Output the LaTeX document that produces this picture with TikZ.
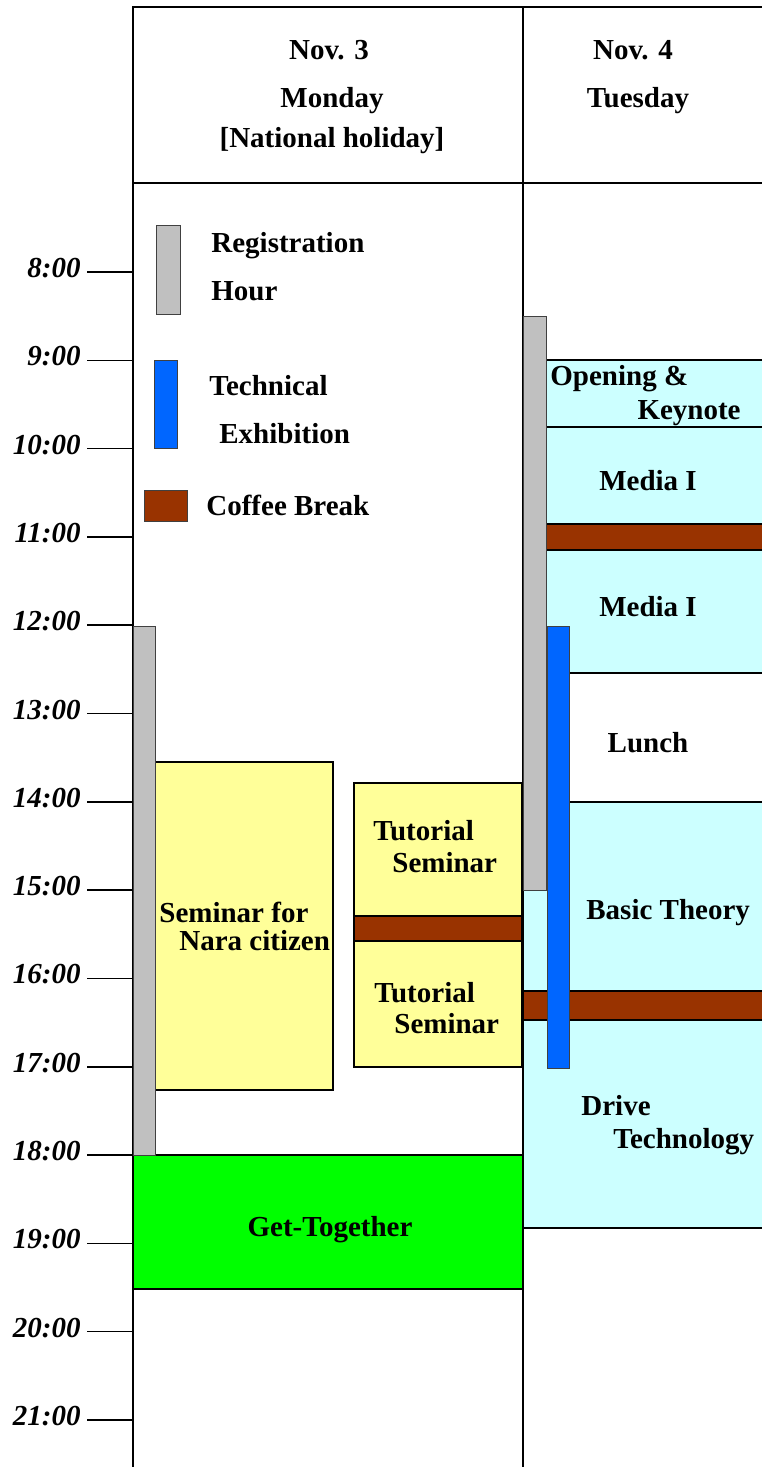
\documentclass[tikz,border=0pt]{standalone}
\usepackage{fontspec}
\setmainfont{Liberation Serif}
\usepackage{tikz}
\pgfdeclarelayer{bg}
\pgfsetlayers{bg,main}

\definecolor{reggray}{HTML}{C0C0C0}
\definecolor{exhblue}{HTML}{0066FF}
\definecolor{coffee}{HTML}{993300}
\definecolor{sess}{HTML}{CCFFFF}
\definecolor{semi}{HTML}{FFFF99}
\definecolor{party}{HTML}{00FF00}

\tikzset{
  lbl/.style={font=\bfseries\fontsize{14.5}{17}\selectfont, inner sep=0pt},
  hr/.style={font=\bfseries\itshape\fontsize{14.5}{17}\selectfont, inner sep=0pt, anchor=base east},
  blk/.style={draw=black, line width=1pt},
  bar/.style={draw=black!75, line width=0.5pt},
}

\begin{document}
\begin{tikzpicture}[x=0.5pt,y=-0.5pt]
        \useasboundingbox (0,0) rectangle (761,1467);
        \begin{pgfonlayer}{bg}
                \draw[line width=1pt] (133,1467) -- (133,7) -- (763,7);
                \draw[line width=1pt] (523,7) -- (523,1467);
                \draw[line width=1pt] (133,183) -- (763,183);
                \foreach \h in {8,...,21} {
                        \pgfmathsetmacro\ty{272+(\h-8)*88.3}
                        \draw[line width=0.8pt] (87,\ty) -- (133,\ty);
                        \node[hr] (t\h) at (81,\ty+5.5) {\h:00};
                }
        \end{pgfonlayer}

        \node[lbl, anchor=base] (d3) at (329,59) {Nov. 3};
        \node[lbl, anchor=base] (mon) at (332,107) {Monday};
        \node[lbl, anchor=base] (hol) at (332,147) {[National holiday]};
        \node[lbl, anchor=base] (d4) at (633,59) {Nov. 4};
        \node[lbl, anchor=base] (tue) at (638,107) {Tuesday};

        % legend
        \draw[bar, fill=reggray] (156,225) rectangle (180,314);
        \draw[bar, fill=exhblue] (154,360) rectangle (177,448);
        \draw[bar, fill=coffee] (144,490) rectangle (187,521);
        \node[lbl, anchor=base west] (reg1) at (211,252) {Registration};
        \node[lbl, anchor=base west] (reg2) at (211,300) {Hour};
        \node[lbl, anchor=base west] (exh1) at (209,395) {Technical};
        \node[lbl, anchor=base west] (exh2) at (219,443) {Exhibition};
        \node[lbl, anchor=base west] (cof) at (206,515) {Coffee Break};

        % monday
        \draw[blk, fill=semi] (155,762) rectangle (333,1090);
        \draw[blk, fill=semi] (354,783) rectangle (522,916);
        \draw[blk, fill=coffee] (354,916) rectangle (522,941);
        \draw[blk, fill=semi] (354,941) rectangle (522,1067);
        \draw[blk, fill=party] (133,1155) rectangle (523,1289);
        \draw[bar, fill=reggray] (133,626) rectangle (155,1155);
        \node[lbl, anchor=base west] (nara1) at (159,922) {Seminar for};
        \node[lbl, anchor=base west] (nara2) at (179,950) {Nara citizen};
        \node[lbl, anchor=base west] (tuta1) at (373,840) {Tutorial};
        \node[lbl, anchor=base west] (tuta2) at (392,872) {Seminar};
        \node[lbl, anchor=base west] (tutb1) at (374,1002) {Tutorial};
        \node[lbl, anchor=base west] (tutb2) at (394,1033) {Seminar};
        \node[lbl, anchor=base] (get) at (330,1236) {Get-Together};

        % tuesday
        \draw[blk, fill=sess] (546,360) rectangle (765,427);
        \draw[blk, fill=sess] (546,427) rectangle (765,524);
        \draw[blk, fill=coffee] (546,524) rectangle (765,550);
        \draw[blk, fill=sess] (546,550) rectangle (765,673);
        \draw[blk, fill=white] (569,673) rectangle (765,802);
        \draw[blk, fill=sess] (523,802) rectangle (765,991);
        \draw[blk, fill=coffee] (523,991) rectangle (765,1020);
        \draw[blk, fill=sess] (523,1020) rectangle (765,1228);
        \draw[bar, fill=reggray] (523,316) rectangle (546,890);
        \draw[bar, fill=exhblue] (547,626) rectangle (569,1068);
        \node[lbl, anchor=base west] (open1) at (550,385) {Opening \&};
        \node[lbl, anchor=base east] (open2) at (741,419) {Keynote};
        \node[lbl, anchor=base] (med1) at (648,490) {Media I};
        \node[lbl, anchor=base] (med2) at (648,616) {Media I};
        \node[lbl, anchor=base] (lun) at (648,752) {Lunch};
        \node[lbl, anchor=base west] (bas) at (586,919) {Basic Theory};
        \node[lbl, anchor=base west] (drv1) at (581,1115) {Drive};
        \node[lbl, anchor=base west] (drv2) at (613,1148) {Technology};
\end{tikzpicture}
\end{document}
